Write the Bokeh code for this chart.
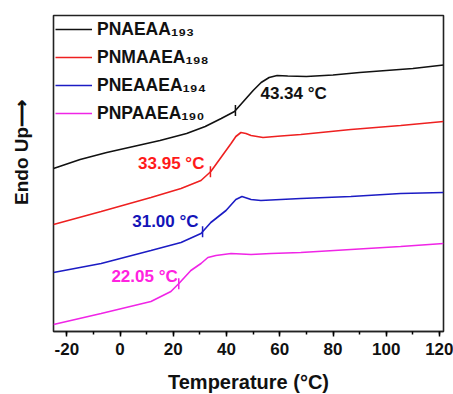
import numpy as np
from bokeh.plotting import figure
from bokeh.models import Range1d, Label, Legend, LegendItem, SingleIntervalTicker, FixedTicker
from bokeh.embed import file_html
from bokeh.resources import INLINE

# ---------------- data ----------------
names = ["PNAEAA\u2081\u2089\u2083", "PNMAAEA\u2081\u2089\u2088",
         "PNEAAEA\u2081\u2089\u2084", "PNPAAEA\u2081\u2089\u2080"]
tg_values = [43.34, 33.95, 31.00, 22.05]
tg_labels = ["43.34 \u00b0C", "33.95 \u00b0C", "31.00 \u00b0C", "22.05 \u00b0C"]
x_ticks = [-20, 0, 20, 40, 60, 80, 100, 120]

black_T = [-25, -15, -5, 5, 15, 25, 32, 38, 43, 47, 50, 53, 56, 59, 63, 70, 80, 90, 100, 110, 121.5]
black_y = [16.3, 17.2, 17.9, 18.5, 19.1, 19.8, 20.5, 21.3, 22.0, 23.2, 24.1, 24.9, 25.4, 25.6,
           25.55, 25.5, 25.65, 25.9, 26.1, 26.3, 26.65]

red_T = [-25, -7.1, 11.6, 22.9, 30.4, 34.1, 37.9, 41.7, 43.5, 45.4, 47.3, 49.2, 53.7, 60.4, 67.9, 86.7, 105.4, 121.5]
red_y = [10.7, 12.0, 13.4, 14.3, 15.1, 16.0, 17.4, 18.8, 19.5, 19.9, 19.8, 19.6, 19.4, 19.55, 19.7, 20.2, 20.6, 21.0]

blue_T = [-25, -7.1, 11.6, 22.9, 30.4, 34.1, 39.8, 43.5, 45.8, 49.2, 52.9, 67.9, 86.7, 105.4, 121.5]
blue_y = [5.9, 6.8, 8.1, 8.9, 9.8, 10.9, 12.1, 13.2, 13.5, 13.2, 13.1, 13.3, 13.5, 13.8, 13.9]

mag_T = [-25, -7.1, 11.6, 19.1, 22.1, 26.6, 30.4, 33.0, 36.0, 41.7, 49.2, 56.7, 67.9, 86.7, 105.4, 121.5]
mag_y = [0.7, 1.8, 3.0, 4.0, 4.8, 6.1, 6.8, 7.4, 7.6, 7.8, 7.7, 7.8, 7.9, 8.2, 8.5, 8.8]

series_T = [black_T, red_T, blue_T, mag_T]
series_y = [black_y, red_y, blue_y, mag_y]

# ---------------- styles ----------------
line_colors = ["#111111", "#ee2020", "#1c1cc4", "#f025e6"]
text_colors = ["#111111", "#ff1a1a", "#1414b8", "#ff22e0"]
FONT = "Liberation Sans"
x_start, x_end = -25, 121.5
y_start, y_end = 0, 31.6

p = figure(frame_width=390, frame_height=316, x_range=Range1d(x_start, x_end),
           y_range=Range1d(y_start, y_end),
           output_backend="svg", toolbar_location=None,
           min_border_left=53, min_border_right=10, min_border_top=15, min_border_bottom=63)
p.grid.visible = False
p.outline_line_color = "#222222"
p.outline_line_width = 1.6
p.outline_line_alpha = 1.0

xa = p.xaxis[0]
xa.ticker = SingleIntervalTicker(interval=20, num_minor_ticks=2)
xa.major_label_overrides = {t: str(t) for t in x_ticks}
xa.axis_line_color = "#222222"
xa.axis_line_width = 1.6
xa.major_tick_in = 0
xa.major_tick_out = 5
xa.minor_tick_in = 0
xa.minor_tick_out = 3
xa.major_tick_line_width = 1.5
xa.minor_tick_line_width = 1.5
xa.major_label_text_font = FONT
xa.major_label_text_font_style = "bold"
xa.major_label_text_font_size = "17px"
xa.major_label_text_color = "#111111"
xa.major_label_standoff = 6
xa.axis_label = "Temperature (\u00b0C)"
xa.axis_label_text_font = FONT
xa.axis_label_text_font_style = "bold"
xa.axis_label_text_font_size = "20px"
xa.axis_label_text_color = "#111111"
xa.axis_label_standoff = 13

# y axis: no ticks / numbers, only the title
ya = p.yaxis[0]
ya.ticker = FixedTicker(ticks=[], minor_ticks=[])
ya.axis_line_color = None
ya.major_tick_line_color = None
ya.minor_tick_line_color = None
ya.major_label_text_font_size = "0px"
ya.axis_label = "\u00a0" * 8 + "Endo Up\u27f6"
ya.axis_label_text_font = FONT
ya.axis_label_text_font_style = "bold"
ya.axis_label_text_font_size = "19px"
ya.axis_label_text_color = "#111111"
ya.axis_label_standoff = 22

items = []
for T, y, c, name, tg in zip(series_T, series_y, line_colors, names, tg_values):
    r = p.line(T, y, line_color=c, line_width=1.6)
    items.append(LegendItem(label=name, renderers=[r]))
    yc = float(np.interp(tg, T, y))
    p.segment(x0=[tg], y0=[yc - 0.55], x1=[tg], y1=[yc + 0.55], line_color=c, line_width=1.5)

legend = Legend(items=items, location="top_left", border_line_alpha=0, background_fill_alpha=0,
                label_text_font=FONT, label_text_font_style="bold", label_text_font_size="17.5px",
                label_text_color="#111111", glyph_width=37, glyph_height=24, label_height=24,
                spacing=4, padding=1, margin=1, label_standoff=5)
p.add_layout(legend)

# Tg annotations: (x_offset, y_offset, align)
offsets = [(25, 17, "left"), (-6, 8, "right"), (-4, 10, "right"), (-1, 7, "right")]
for T, y, tg, txt, col, (dx, dy, al) in zip(series_T, series_y, tg_values, tg_labels, text_colors, offsets):
    yc = float(np.interp(tg, T, y))
    p.add_layout(Label(x=tg, y=yc, text=txt, x_offset=dx, y_offset=dy, text_align=al,
                       text_baseline="middle", text_color=col, text_font=FONT,
                       text_font_style="bold", text_font_size="17px"))

open("out.html", "w").write(file_html(p, INLINE))
